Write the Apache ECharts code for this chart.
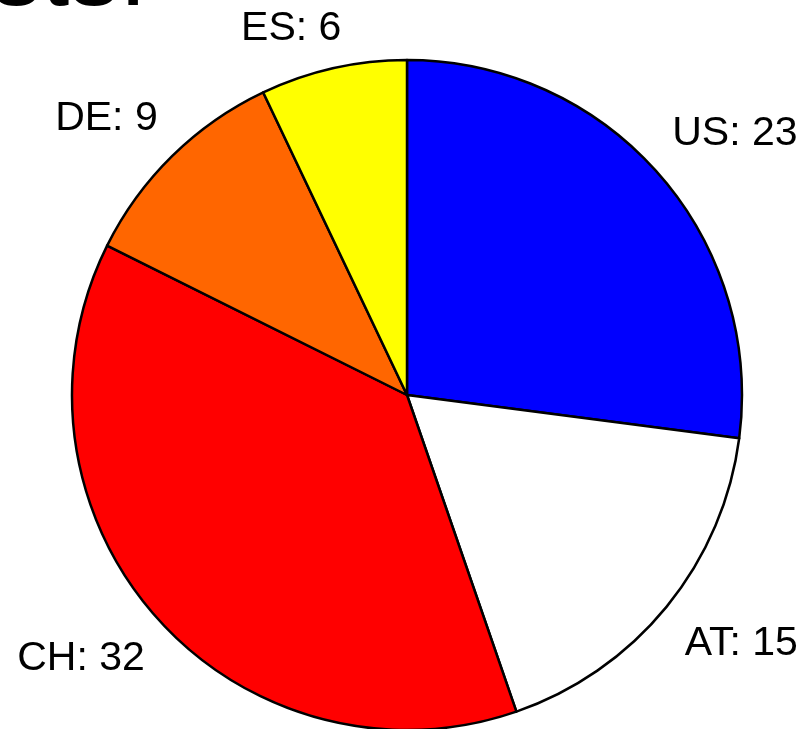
<!DOCTYPE html>
<html>
<head>
<meta charset="utf-8">
<script src="https://cdn.jsdelivr.net/npm/echarts@6/dist/echarts.min.js"></script>
<style>
  html, body { margin: 0; padding: 0; background: #fff; }
  #chart { width: 807px; height: 729px; }
</style>
</head>
<body>
<div id="chart"></div>
<script>
const countries = ['US', 'AT', 'CH', 'DE', 'ES'];
const counts = [23, 15, 32, 9, 6];
const sliceColors = ['#0000ff', '#ffffff', '#ff0000', '#ff6600', '#ffff00'];

const fontFamily = 'Liberation Sans, Arial, sans-serif';
const center = [407, 395];
const radius = 335;
// small nudges so the labels sit where the original put them
const labelNudge = [[0, -8], [4, 5], [3, 10], [-2, -4], [12, -1]];

const chart = echarts.init(document.getElementById('chart'));

chart.setOption({
  backgroundColor: '#ffffff',
  animation: false,
  // title mostly cut off at the top edge, like the original
  graphic: [{
    type: 'text',
    x: 147,
    y: -73,
    style: {
      text: 'Guests.',
      font: `100px ${fontFamily}`,
      fill: '#000',
      textAlign: 'right'
    }
  }],
  series: [{
    type: 'pie',
    center,
    radius,
    startAngle: 90,
    clockwise: true,
    avoidLabelOverlap: false,
    data: countries.map((c, i) => ({
      name: c,
      value: counts[i],
      itemStyle: { color: sliceColors[i] }
    })),
    itemStyle: { borderColor: '#000', borderWidth: 2.5 },
    label: {
      show: true,
      position: 'outside',
      formatter: (p) => `${p.name}: ${p.value}`,
      fontFamily,
      fontSize: 41,
      color: '#000',
      distanceToLabelLine: 0
    },
    labelLine: { show: false, length: 18, length2: 0 },
    labelLayout: (params) => {
      const r = params.labelRect;
      const above = r.y + r.height / 2 < center[1];
      const [dx, dy] = labelNudge[params.dataIndex];
      return { verticalAlign: above ? 'bottom' : 'top', dx, dy };
    },
    emphasis: { disabled: true }
  }]
});
</script>
</body>
</html>
